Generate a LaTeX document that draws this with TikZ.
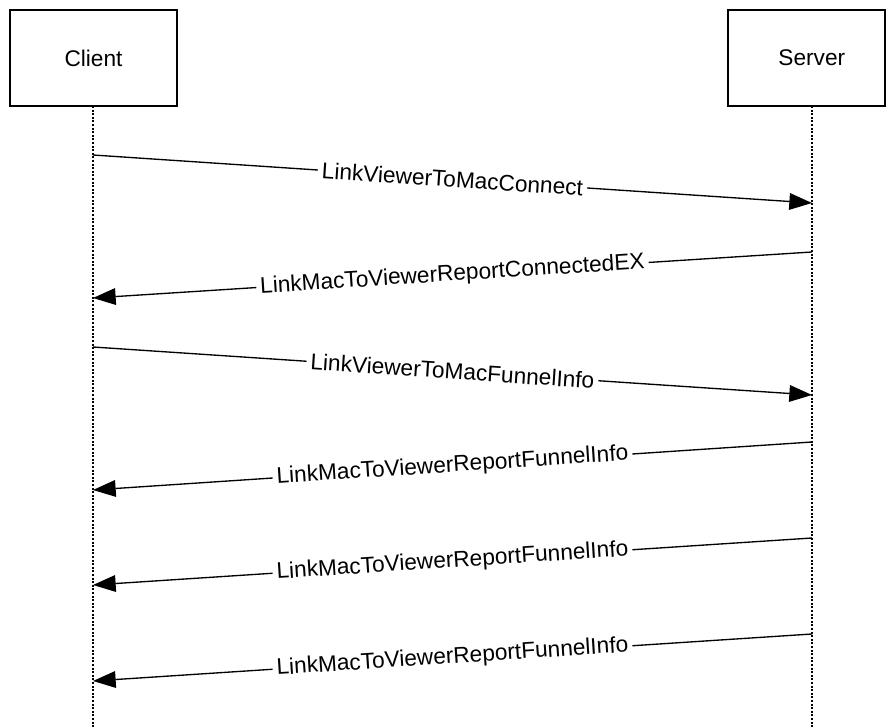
\documentclass[tikz,border=0pt]{standalone}
\usepackage{fontspec}
\setmainfont{Liberation Sans}
\usetikzlibrary{arrows.meta}

\tikzset{
  actor/.style={draw, line width=1pt, minimum height=72pt, inner sep=0pt,
    font=\fontsize{17}{20}\selectfont},
  lifeline/.style={line width=1pt, dash pattern=on 1.5pt off 1.2pt},
  msg/.style={line width=1pt, -{Triangle[length=17pt,width=12.5pt]}},
  msglabel/.style={fill=white, sloped, inner sep=3pt,
    font=\fontsize{17}{20}\selectfont}
}

\begin{document}
\begin{tikzpicture}[x=0.75pt, y=-0.75pt]
    \useasboundingbox (0,0) rectangle (886,727);

    % participants
    \node [actor, minimum width=125.25pt] (client) at (93.5,58) {Client};
    \node [actor, minimum width=117.75pt] (server) at (806.5,58) {\hspace{8pt}Server};

    % lifelines
    \coordinate (clienttop) at (93,106);
    \coordinate (clientend) at (93,727);
    \coordinate (servertop) at (812,106);
    \coordinate (serverend) at (812,727);
    \draw [lifeline] (clienttop) -- (clientend);
    \draw [lifeline] (servertop) -- (serverend);

    % message end points
    \coordinate (c1) at (93,155);  \coordinate (s1) at (812,203);
    \coordinate (s2) at (812,252); \coordinate (c2) at (93,298);
    \coordinate (c3) at (93,347);  \coordinate (s3) at (812,395);
    \coordinate (s4) at (812,442); \coordinate (c4) at (93,490);
    \coordinate (s5) at (812,538); \coordinate (c5) at (93,585);
    \coordinate (s6) at (812,634); \coordinate (c6) at (93,681);

    % messages
    \draw [msg] (c1) -- node [msglabel] {LinkViewerToMacConnect} (s1);
    \draw [msg] (s2) -- node [msglabel] {LinkMacToViewerReportConnectedEX} (c2);
    \draw [msg] (c3) -- node [msglabel] {LinkViewerToMacFunnelInfo} (s3);
    \draw [msg] (s4) -- node [msglabel] {LinkMacToViewerReportFunnelInfo} (c4);
    \draw [msg] (s5) -- node [msglabel] {LinkMacToViewerReportFunnelInfo} (c5);
    \draw [msg] (s6) -- node [msglabel] {LinkMacToViewerReportFunnelInfo} (c6);
\end{tikzpicture}
\end{document}
